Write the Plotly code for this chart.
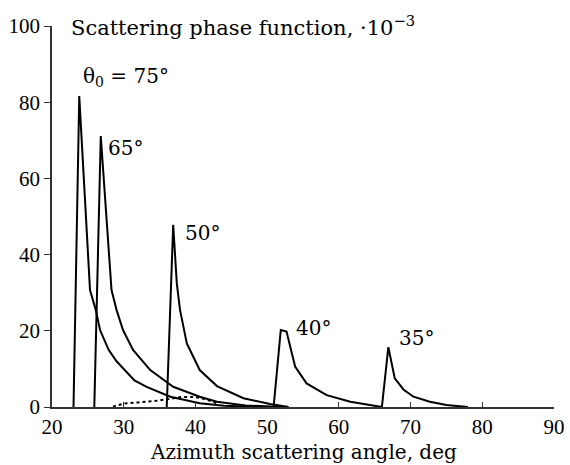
import plotly.graph_objects as go

# curves (azimuth angle, deg -> phase function x1e-3)
x75 = [23.0, 23.8, 25.3, 26.1, 26.7, 27.9, 29.0, 30.2, 31.5, 33.2, 36.5, 40.6, 44.0, 50.0]
y75 = [0, 81.6, 30.7, 25.5, 20.2, 15.0, 12.0, 9.7, 7.0, 5.3, 2.7, 1.0, 0.3, 0]

x65 = [25.9, 26.8, 28.3, 29.0, 29.9, 31.3, 33.7, 36.9, 40.6, 43.0, 47.0, 52.0]
y65 = [0, 71.1, 30.7, 25.5, 20.2, 15.0, 9.7, 5.3, 2.7, 1.4, 0.4, 0]

x50 = [36.0, 36.9, 37.4, 37.85, 38.8, 40.6, 43.0, 46.7, 50.4, 53.0]
y50 = [0, 47.8, 32.5, 25.5, 16.7, 9.7, 5.5, 2.3, 0.8, 0]

x40 = [50.9, 51.9, 52.7, 53.3, 53.9, 55.5, 58.3, 61.6, 64.4, 66.0]
y40 = [0, 20.2, 19.8, 15.0, 10.6, 6.2, 3.1, 1.4, 0.5, 0]

x35 = [66.0, 66.9, 67.8, 69.0, 70.4, 72.7, 75.0, 78.0]
y35 = [0, 15.7, 7.5, 4.6, 2.7, 1.4, 0.5, 0]

xdot = [28.5, 30.0, 32.0, 34.0, 36.0, 38.0, 40.0, 41.5, 43.0]
ydot = [0.1, 0.9, 1.2, 1.5, 2.0, 2.6, 2.6, 2.0, 1.0]

labels = ["θ<sub>0</sub> = 75°", "65°", "50°", "40°", "35°"]
label_x = [24.0, 27.5, 38.2, 53.8, 68.1]
label_y = [86.6, 68.0, 45.7, 20.7, 18.1]

FONT = "DejaVu Serif"
TICKFONT = "Liberation Serif"
FS = 20

fig = go.Figure()
for xs, ys in [(x75, y75), (x65, y65), (x50, y50), (x40, y40), (x35, y35)]:
    fig.add_trace(go.Scatter(x=xs, y=ys, mode="lines",
                             line=dict(color="black", width=2), showlegend=False))
fig.add_trace(go.Scatter(x=xdot, y=ydot, mode="lines",
                         line=dict(color="black", width=2, dash="dot"), showlegend=False))

for t, lx, ly in zip(labels, label_x, label_y):
    fig.add_annotation(x=lx, y=ly, text=t, showarrow=False, xanchor="left",
                       yanchor="middle", font=dict(size=FS, color="black", family=FONT))

fig.add_annotation(x=0.034, y=1.0, xref="paper", yref="paper", showarrow=False,
                   xanchor="left", yanchor="middle",
                   text="Scattering phase function, ·10<sup>−3</sup>",
                   font=dict(size=21, color="black", family=FONT))
fig.add_annotation(x=0.5, y=-0.118, xref="paper", yref="paper", showarrow=False,
                   xanchor="center", yanchor="middle",
                   text="Azimuth scattering angle, deg",
                   font=dict(size=FS, color="black", family=FONT))

fig.update_layout(
    width=570, height=465,
    margin=dict(l=52, r=16, t=26, b=58),
    paper_bgcolor="white", plot_bgcolor="white",
    font=dict(family=FONT, size=FS, color="black"),
)
fig.update_xaxes(range=[20, 90], tickvals=[20, 30, 40, 50, 60, 70, 80, 90],
                 showgrid=False, zeroline=False, showline=True, automargin=False,
                 linecolor="#333", linewidth=1.5, ticks="inside", ticklen=5,
                 tickcolor="#333", tickfont=dict(family=TICKFONT, size=21))
fig.update_yaxes(range=[0, 100], tickvals=[0, 20, 40, 60, 80, 100],
                 showgrid=False, zeroline=False, showline=True, automargin=False,
                 linecolor="#333", linewidth=1.5, ticks="outside", ticklen=6,
                 tickcolor="#333", tickfont=dict(family=TICKFONT, size=21))

# drop the browser's default 8px body margin so the figure fills the window
fig.write_html("out.html", config={"displayModeBar": False},
               post_script="document.body.style.margin='0';")
